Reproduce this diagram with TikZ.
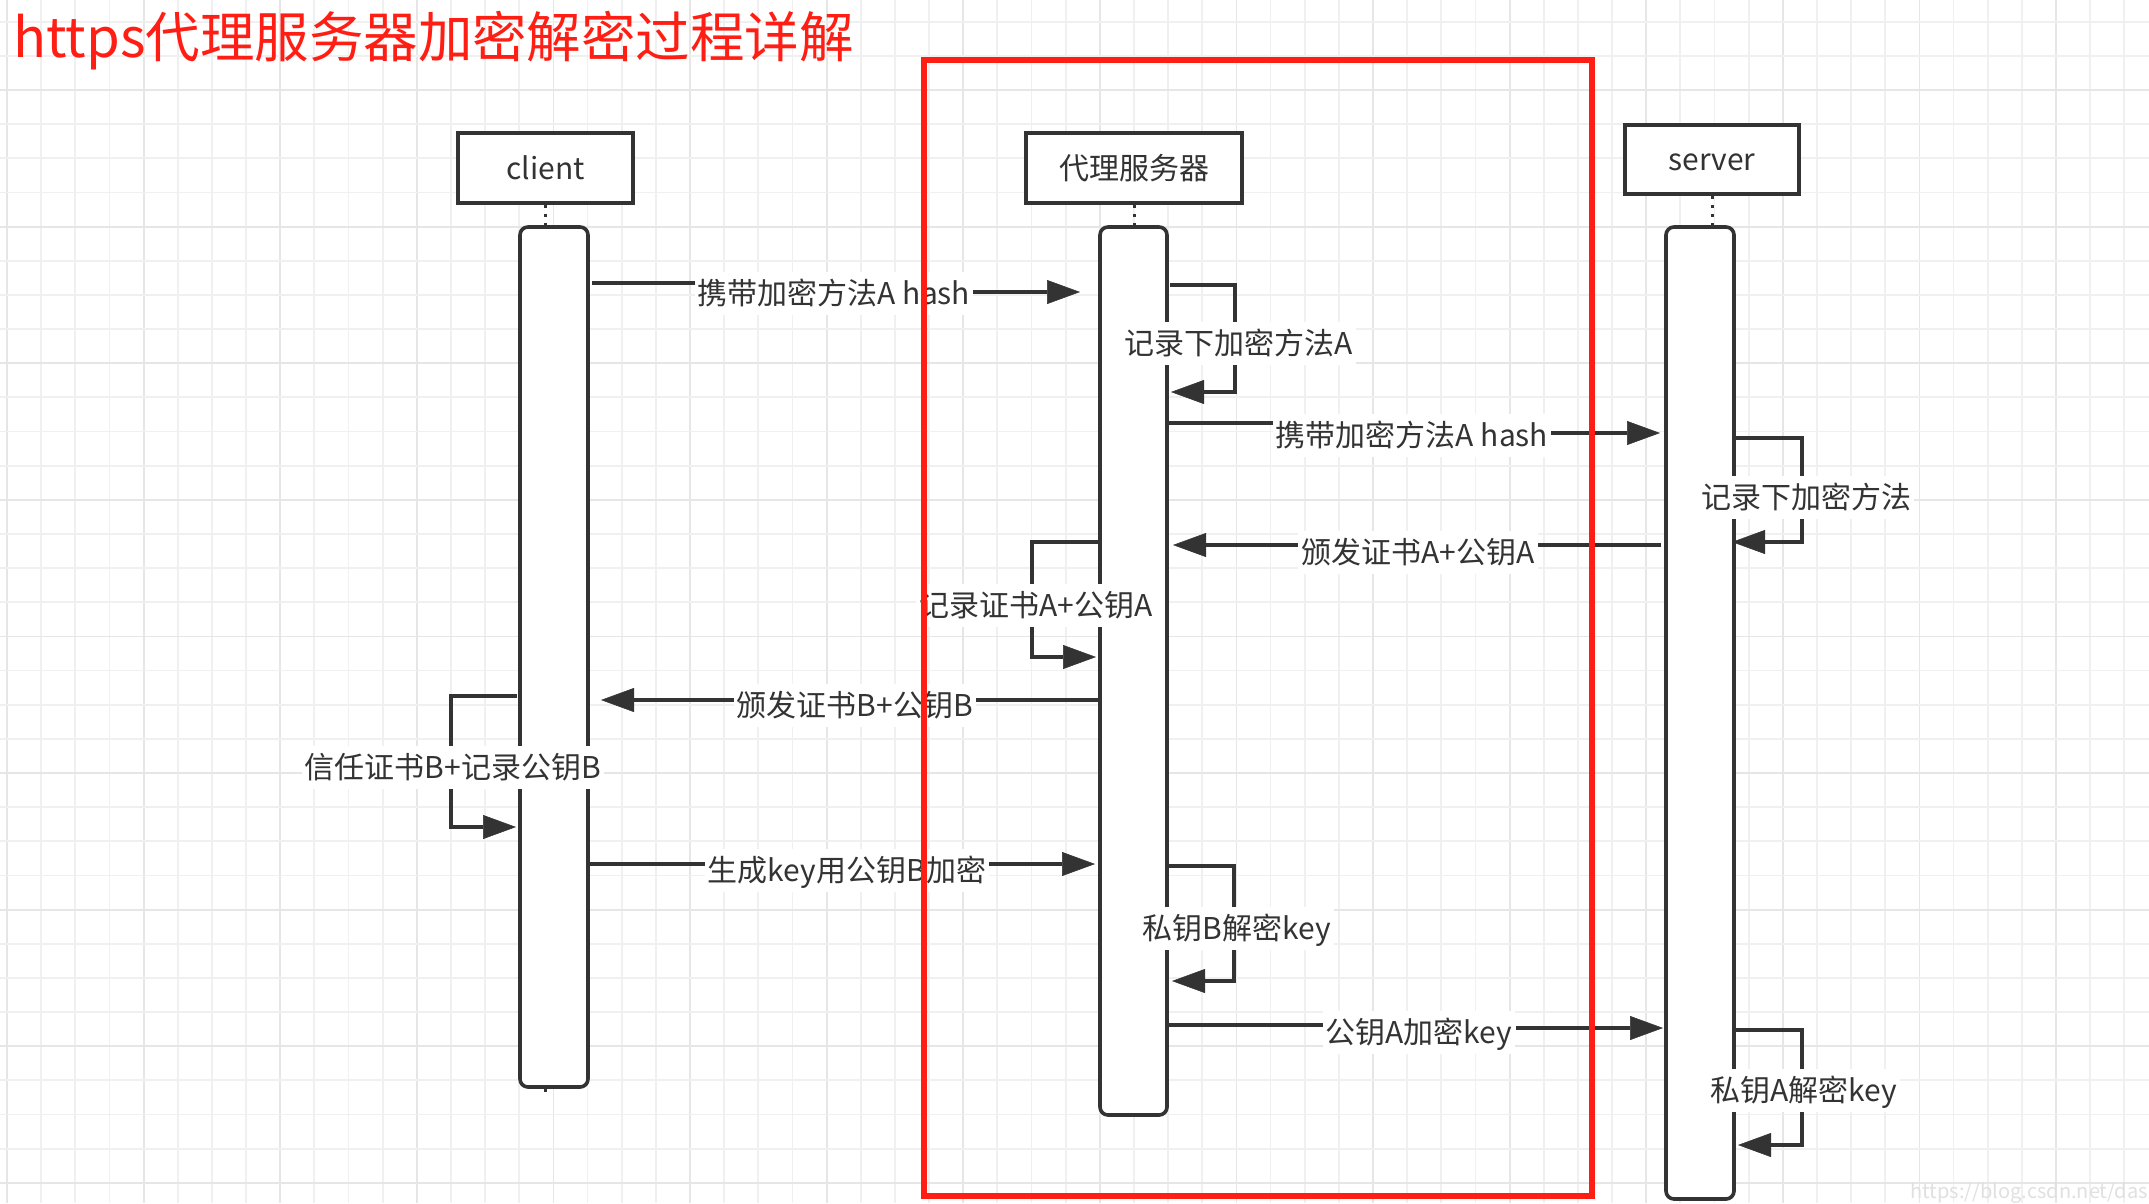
\documentclass[tikz,border=0pt]{standalone}
\usepackage{fontspec}
\setmainfont{Noto Sans CJK SC}
\usetikzlibrary{arrows.meta}
\definecolor{ink}{HTML}{333333}
\definecolor{redline}{HTML}{FF1E14}
\definecolor{gridminor}{HTML}{F0F0F0}
\definecolor{gridmajor}{HTML}{E6E6E6}
\definecolor{wmark}{HTML}{E0E0E0}
\begin{document}
\begin{tikzpicture}[x=1pt,y=-1pt,
  hdr/.style={draw=ink, line width=3.8pt, fill=white, minimum height=70pt,
    inner sep=0pt, text=ink, text height=22pt, text depth=0pt, font=\fontsize{30}{36}\selectfont},
  bar/.style={draw=ink, line width=3.6pt, fill=white, rounded corners=8pt, inner sep=0pt},
  life/.style={draw=ink, line width=3pt, dash pattern=on 3pt off 6pt},
  seg/.style={draw=ink, line width=4pt},
  msg/.style={draw=ink, line width=4pt, -{Triangle[length=33pt,width=24pt,line width=0.5pt]}},
  lbl/.style={fill=white, text=ink, font=\fontsize{30}{36}\selectfont,
    inner xsep=3pt, inner ysep=6pt, text height=27pt, text depth=4pt}]
\useasboundingbox (0,0) rectangle (2149,1203);
\fill[white] (0,0) rectangle (2149,1203);
% grid
\begin{scope}
\clip (0,0) rectangle (2149,1203);
\foreach \i in {0,...,62}{
  \pgfmathsetmacro\xx{7+34.15*\i}
  \pgfmathtruncatemacro\mm{mod(\i,4)}
  \ifnum\mm=0 \def\gc{gridmajor}\else\def\gc{gridminor}\fi
  \draw[draw=\gc, line width=1.8pt] (\xx,0) -- (\xx,1203);
}
\foreach \k in {-2,...,32}{
  \pgfmathsetmacro\yy{90+34.15*\k}
  \pgfmathtruncatemacro\mm{mod(\k+8,4)}
  \ifnum\mm=0 \def\gc{gridmajor}\else\def\gc{gridminor}\fi
  \draw[draw=\gc, line width=1.8pt] (0,\yy) -- (2149,\yy);
}
\end{scope}
% header boxes
\node[hdr, minimum width=175pt] (client) at (545.5,168) {client};
\node[hdr, minimum width=216pt] (proxy) at (1134,168) {代理服务器};
\node[hdr, minimum width=174pt, minimum height=69pt] (server) at (1712,159.5) {server};
% activation bars
\node[bar, minimum width=68pt, minimum height=860pt] (cbar) at (554,657) {};
\node[bar, minimum width=67pt, minimum height=888pt] (pbar) at (1133.5,671) {};
\node[bar, minimum width=68pt, minimum height=972pt] (sbar) at (1700,713) {};
% dotted lifelines
\coordinate (cdot) at (545.5,1094);
\draw[life] (client.south) -- (client.south |- cbar.north);
\draw[life] (proxy.south) -- (proxy.south |- pbar.north);
\draw[life] (server.south) -- (server.south |- sbar.north);
\draw[life] (cdot |- cbar.south) -- (cdot);
% message end points
\coordinate (m1a) at (592,283);   \coordinate (m1b) at (1080,292);
\coordinate (m3a) at (1168,423);  \coordinate (m3b) at (1660,433);
\coordinate (m5a) at (1661,545);  \coordinate (m5b) at (1173,545);
\coordinate (m7a) at (1098,700);  \coordinate (m7b) at (601,700);
\coordinate (m9a) at (590,864);   \coordinate (m9b) at (1095,864);
\coordinate (m11a) at (1168,1025); \coordinate (m11b) at (1663,1028);
% self loops
\coordinate (l2a) at (1170,285);  \coordinate (l2b) at (1171,392);
\coordinate (l4a) at (1735,438);  \coordinate (l4b) at (1732,542);
\coordinate (l6a) at (1098,542);  \coordinate (l6b) at (1096,657);
\coordinate (l8a) at (517,696);   \coordinate (l8b) at (516,827);
\coordinate (l10a) at (1168,866); \coordinate (l10b) at (1172,981);
\coordinate (l12a) at (1735,1030); \coordinate (l12b) at (1738,1145);
\draw[msg] (l2a) -- ++(65,0) |- (l2b);
\draw[msg] (l4a) -- ++(67,0) |- (l4b);
\draw[msg] (l6a) -- ++(-66,0) |- (l6b);
\draw[msg] (l8a) -- ++(-66,0) |- (l8b);
\draw[msg] (l10a) -- ++(66,0) |- (l10b);
\draw[msg] (l12a) -- ++(67,0) |- (l12b);
% labels
\node[lbl] (t2) at (1239,343) {记录下加密方法A};
\node[lbl] (t4) at (1806,497) {记录下加密方法};
\node[lbl] (t6) at (1036,605) {记录证书A+公钥A};
\node[lbl] (t8) at (453,767) {信任证书B+记录公钥B};
\node[lbl] (t10) at (1237,928) {私钥B解密key};
\node[lbl] (t12) at (1804,1090) {私钥A解密key};
\node[lbl] (t1) at (834,293) {携带加密方法A hash};
\node[lbl] (t3) at (1412,435) {携带加密方法A hash};
\node[lbl] (t5) at (1418,552) {颁发证书A+公钥A};
\node[lbl] (t7) at (855,705) {颁发证书B+公钥B};
\node[lbl] (t9) at (847,870) {生成key用公钥B加密};
\node[lbl] (t11) at (1419,1032) {公钥A加密key};
% messages
\draw[seg] (m1a) -- (t1.west |- m1a);
\draw[msg] (t1.east |- m1b) -- (m1b);
\draw[seg] (m3a) -- (t3.west |- m3a);
\draw[msg] (t3.east |- m3b) -- (m3b);
\draw[seg] (m5a) -- (t5.east |- m5a);
\draw[msg] (t5.west |- m5b) -- (m5b);
\draw[seg] (m7a) -- (t7.east |- m7a);
\draw[msg] (t7.west |- m7b) -- (m7b);
\draw[seg] (m9a) -- (t9.west |- m9a);
\draw[msg] (t9.east |- m9b) -- (m9b);
\draw[seg] (m11a) -- (t11.west |- m11a);
\draw[msg] (t11.east |- m11b) -- (m11b);
% red frame
\draw[redline, line width=6pt] (924,60) rectangle (1592,1196);
% title
\node[anchor=west, inner sep=0pt, text=redline, font=\fontsize{54.5}{64}\selectfont] (title) at (13,41) {https代理服务器加密解密过程详解};
% watermark
\node[anchor=base east, inner sep=0pt, text=wmark, font=\fontsize{20}{24}\selectfont] (wm) at (2148,1198) {https://blog.csdn.net/das};
\end{tikzpicture}
\end{document}
